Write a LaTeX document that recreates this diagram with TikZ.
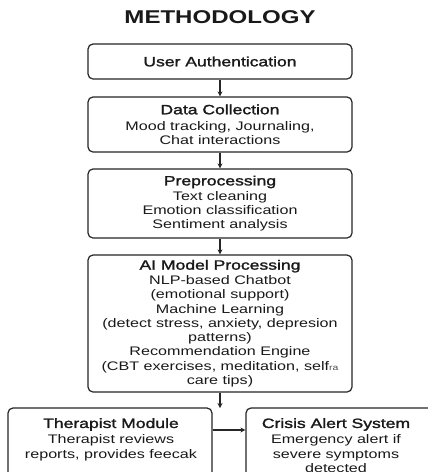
\documentclass[tikz,border=0pt]{standalone}
\usepackage{fontspec}
\setmainfont{Liberation Sans}[FakeStretch=1.3]
\newfontfamily\hdfam{Liberation Sans}[FakeStretch=1.3, FakeBold=1.6]
\usetikzlibrary{arrows.meta}
\newcommand\hdf{\hdfam\fontsize{13.5}{15}\selectfont}
\newcommand\bdf{\fontsize{12.4}{14.3}\selectfont}
\begin{document}
\begin{tikzpicture}[x=1pt,y=-1pt,
  box/.style={draw=black!85, line width=1.2pt, rounded corners=5pt, align=center,
    font=\bdf, inner sep=0pt, text=black!90},
  txt/.style={align=center, font=\bdf, inner sep=0pt, text=black!90},
  arr/.style={draw=black!85, line width=1.1pt, -{Stealth[length=5pt,width=5pt]}}]
\useasboundingbox (0,0) rectangle (428,472);
\clip (0,0) rectangle (428,472);
\fill[white] (0,0) rectangle (428,472);
\node[font=\fontsize{18.5}{20}\selectfont\bfseries, text=black!90] (title) at (220,17) {METHODOLOGY};
\node[box, minimum width=264pt, minimum height=35pt] (b1) at (220,61.5) {{\hdf User Authentication}};
\node[box, minimum width=264pt, minimum height=55pt] (b2) at (220,124.5)
  {{\hdf Data Collection}\\[1.5pt] Mood tracking, Journaling,\\ Chat interactions};
\node[box, minimum width=264pt, minimum height=69pt] (b3) at (220,203.5)
  {{\hdf Preprocessing}\\[0.5pt] Text cleaning\\ Emotion classification\\ Sentiment analysis};
\node[box, minimum width=264pt, minimum height=137pt] (b4) at (220,323.5)
  {{\hdf AI Model Processing}\\[0.5pt] NLP-based Chatbot\\ (emotional support)\\ Machine Learning\\
   (detect stress, anxiety, depresion\\ patterns)\\ Recommendation Engine\\
   (CBT exercises, meditation, self{\fontsize{8}{9}\selectfont\color{black!70}ra}\\ care tips)};
\node[box, minimum width=204pt, minimum height=112pt] (b5) at (110,464) {};
\node[box, minimum width=204pt, minimum height=112pt] (b6) at (348,464) {};
\node[txt, anchor=north] (t5) at (111,418)
  {{\hdf Therapist Module}\\[1.5pt] Therapist reviews\\ reports, provides feecak};
\node[txt, anchor=north] (t6) at (336,418)
  {{\hdf Crisis Alert System}\\[1.5pt] Emergency alert if\\ severe symptoms\\ detected};
\coordinate (split) at (220,408);
\coordinate (ay) at (0,430);
\draw[arr] (b1) -- (b2);
\draw[arr] (b2) -- (b3);
\draw[arr] (b3) -- (b4);
\draw[arr] (b4) -- (split);
\draw[arr] (b5.east |- ay) -- (b6.west |- ay);
\end{tikzpicture}
\end{document}
